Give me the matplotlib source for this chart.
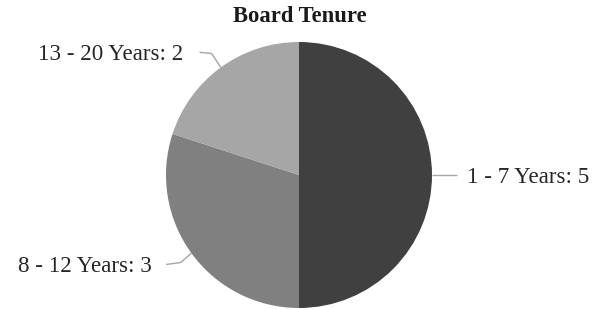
import numpy as np
import matplotlib
matplotlib.use("Agg")
import matplotlib.pyplot as plt

title = "Board Tenure"
categories = ["1 - 7 Years", "8 - 12 Years", "13 - 20 Years"]
values = [5, 3, 2]
colors = ["#404040", "#808080", "#a6a6a6"]

W, H = 595, 309
fig = plt.figure(figsize=(W / 100, H / 100), dpi=100)
cx, cy, r = 299, 175, 133
ax = fig.add_axes([(cx - r) / W, (H - cy - r) / H, 2 * r / W, 2 * r / H])

wedges, _ = ax.pie(values, colors=colors, startangle=90, counterclock=False,
                   radius=1.0, wedgeprops=dict(linewidth=0))
ax.set_xlim(-1, 1)
ax.set_ylim(-1, 1)
ax.set_aspect("equal")
ax.axis("off")

font = dict(family=["Liberation Serif", "DejaVu Serif"], size=16.6, color="#262626")
line_kw = dict(color="#a6a6a6", lw=1.0, clip_on=False, solid_capstyle="butt")

for w, cat, v in zip(wedges, categories, values):
    mid = np.deg2rad((w.theta1 + w.theta2) / 2)
    x0, y0 = np.cos(mid), np.sin(mid)
    label = f"{cat}: {v}"
    if x0 > 0.5:
        ax.plot([x0, x0 + 0.19], [y0, y0], **line_kw)
        ax.text(x0 + 0.26, y0, label, ha="left", va="center_baseline", **font)
    elif y0 > 0:
        x1, y1 = x0 - 0.07, y0 + 0.105
        x2, y2 = x1 - 0.09, y1 + 0.008
        ax.plot([x0, x1, x2], [y0, y1, y2], **line_kw)
        ax.text(x2 - 0.12, y2, label, ha="right", va="center_baseline", **font)
    else:
        x1, y1 = x0 - 0.08, y0 - 0.07
        x2, y2 = x1 - 0.11, y1 - 0.015
        ax.plot([x0, x1, x2], [y0, y1, y2], **line_kw)
        ax.text(x2 - 0.11, y2, label, ha="right", va="center_baseline", **font)

fig.text(300 / W, 1 - 17 / H, title, ha="center", va="center",
         family=["Liberation Serif", "DejaVu Serif"], weight="bold", size=16.3,
         color="#1a1a1a")

fig.savefig("out.png", dpi=100)
